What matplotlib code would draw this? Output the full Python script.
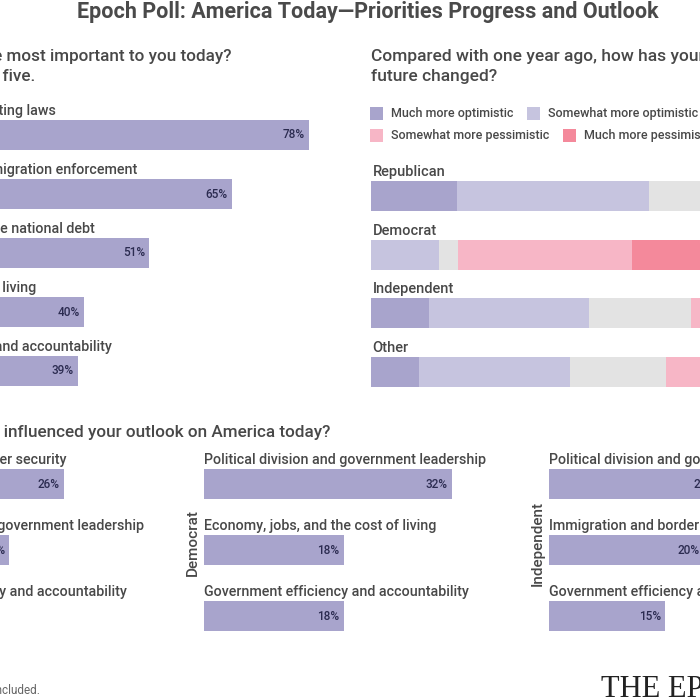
import matplotlib.pyplot as plt
from matplotlib.patches import Rectangle

# ---- data ----
priority_labels = ["Election security and voting laws",
                   "Border security and immigration enforcement",
                   "Federal spending and the national debt",
                   "Inflation and the cost of living",
                   "Government efficiency and accountability"]
priority_values = [78, 65, 51, 40, 39]

parties = ["Republican", "Democrat", "Independent", "Other"]
outlook_names = ["Much more optimistic", "Somewhat more optimistic", "No change",
                 "Somewhat more pessimistic", "Much more pessimistic"]
much_opt = [16.2, 0.0, 11.0, 9.0]
some_opt = [36.2, 12.8, 30.2, 28.5]
no_change = [30.0, 3.6, 19.2, 18.1]
some_pess = [11.0, 32.8, 21.0, 24.0]
much_pess = [6.6, 50.8, 18.6, 20.4]

rep_labels = ["Immigration and border security",
              "Political division and government leadership",
              "Government efficiency and accountability"]
rep_values = [26, 19, 15]
dem_labels = ["Political division and government leadership",
              "Economy, jobs, and the cost of living",
              "Government efficiency and accountability"]
dem_values = [32, 18, 18]
ind_labels = ["Political division and government leadership",
              "Immigration and border security",
              "Government efficiency and accountability"]
ind_values = [22, 20, 15]

# ---- style ----
plt.rcParams['font.family'] = ['Roboto', 'DejaVu Sans']
W, H = 700, 700
BAR = "#a8a4cc"
seg_colors = ["#a8a4cc", "#c6c4df", "#e3e3e3", "#f7b6c6", "#f4899b"]
TXT = "#484848"
VAL = "#2b2b50"
LS = 10.3  # label size

fig = plt.figure(figsize=(7, 7), dpi=100)


def panel(x0, px_unit, xmax, y0, dy, n):
    # axes placed in pixel units: x 0..xmax -> x0.., row i centred at y0 + dy*i
    top = y0 - dy * 0.9
    bottom = y0 + dy * (n - 1) + dy * 0.6
    ax = fig.add_axes([x0 / W, 1 - bottom / H, px_unit * xmax / W, (bottom - top) / H])
    ax.set_xlim(0, xmax)
    ax.set_ylim((bottom - y0) / dy, (top - y0) / dy)
    ax.axis('off')
    return ax


def hbars(ax, labels, values, dy):
    h = 30 / dy
    ys = range(len(values))
    ax.barh(list(ys), values, height=h, color=BAR)
    for i, (lab, v) in enumerate(zip(labels, values)):
        ax.text(0, i - h / 2 - 5 / dy, lab, ha='left', va='baseline',
                fontsize=LS, color=TXT, fontweight='medium')
        ax.annotate(f"{v}%", (v, i), xytext=(-4, 0), textcoords='offset pixels',
                    ha='right', va='center', fontsize=8.5, color=VAL,
                    fontweight='medium')


def ftext(x, y, s, **kw):
    fig.text(x / W, 1 - y / H, s, **kw)


# title
ftext(368, 12, "Epoch Poll: America Today\u2014Priorities Progress and Outlook",
      ha='center', va='center', fontsize=15.5, fontweight='bold', color="#4a4a4a")

# top-left: priorities
ftext(232, 57, "Which issues are the most important to you today?", ha='right',
      va='center', fontsize=12.3, color=TXT, fontweight='medium')
ftext(35, 77, "Choose up to five.", ha='right', va='center', fontsize=12.3,
      color=TXT, fontweight='medium')
ax1 = panel(-153, 5.92, 100, 135, 59, len(priority_values))
hbars(ax1, priority_labels, priority_values, 59)

# top-right: outlook by party
ftext(371, 57, "Compared with one year ago, how has your outlook on America's",
      ha='left', va='center', fontsize=12.5, color=TXT, fontweight='medium')
ftext(371, 77, "future changed?", ha='left', va='center', fontsize=12.5,
      color=TXT, fontweight='medium')
legend_pos = [(370, 107), (527, 107), (563, 129), (370, 129)]
legend_idx = [0, 1, 4, 3]
for (lx, ly), k in zip(legend_pos, legend_idx):
    fig.add_artist(Rectangle((lx / W, 1 - (ly + 13) / H), 13 / W, 13 / H,
                             transform=fig.transFigure, color=seg_colors[k], lw=0))
    ftext(lx + 21, ly + 6.5, outlook_names[k], ha='left', va='center',
          fontsize=9, color=TXT, fontweight='medium')

dy2 = 58.7
ax2 = panel(371, 5.3, 100, 196, dy2, len(parties))
left = [0.0] * len(parties)
for k, seg in enumerate([much_opt, some_opt, no_change, some_pess, much_pess]):
    ax2.barh(range(len(parties)), seg, left=left, height=30 / dy2,
             color=seg_colors[k], lw=0)
    left = [a + b for a, b in zip(left, seg)]
for i, p in enumerate(parties):
    ax2.text(0.3, i - 15 / dy2 - 5 / dy2, p, ha='left', va='baseline',
             fontsize=10.5, color=TXT, fontweight='medium')

# bottom: what influenced outlook
ftext(330, 432, "Which issue has most influenced your outlook on America today?",
      ha='right', va='center', fontsize=12.3, color=TXT, fontweight='medium')
for x0, name, labs, vals in [(-138, "Republican", rep_labels, rep_values),
                             (204, "Democrat", dem_labels, dem_values),
                             (549, "Independent", ind_labels, ind_values)]:
    ax = panel(x0, 7.75, 40, 484, 66, 3)
    hbars(ax, labs, vals, 66)
    ftext(x0 - 11, 543, name, ha='center', va='center', rotation=90,
          fontsize=11, color=TXT, fontweight='medium')

ftext(40, 690, "Note: Respondents who answered \u201cNot sure\u201d are not included.",
      ha='right', va='center', fontsize=8.5, color="#666666")
ftext(601, 697, "THE EPOCH TIMES", ha='left', va='baseline', fontsize=22,
      color="#222222", family=['Liberation Serif', 'DejaVu Serif'])

fig.savefig("out.png", dpi=100)
